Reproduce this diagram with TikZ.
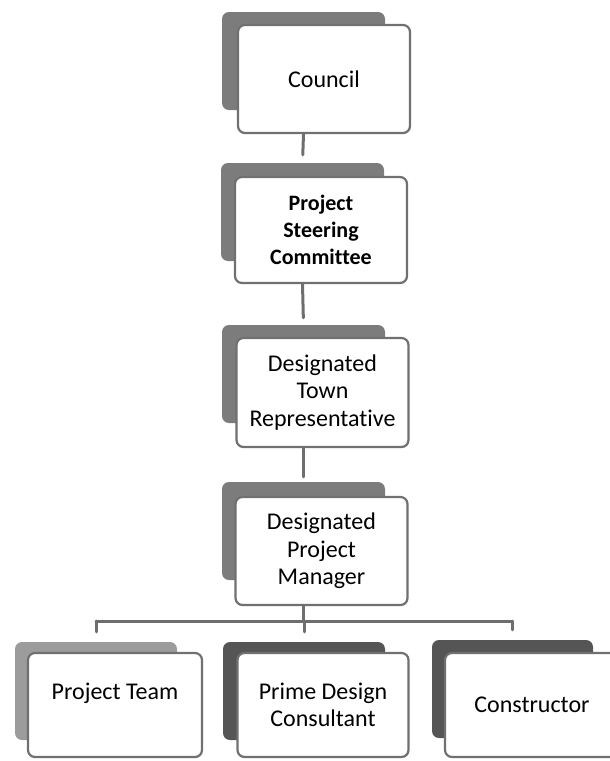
\documentclass[tikz,border=0pt]{standalone}
\usepackage{fontspec}
\setmainfont{Carlito}[Ligatures=NoCommon]
\definecolor{boxline}{HTML}{707070}
\definecolor{linkgray}{HTML}{6E6E6E}
\definecolor{shadeA}{HTML}{7C7C7C}
\definecolor{shadeB}{HTML}{9C9C9C}
\definecolor{shadeC}{HTML}{555555}
\begin{document}
\begin{tikzpicture}[x=1pt, y=-1pt, line join=round, line cap=round,
	font=\fontsize{24}{27.5}\selectfont,
	card/.style={draw=boxline, line width=2.2pt, fill=white, rounded corners=7pt,
		minimum width=172pt, minimum height=106pt, align=center, inner sep=2pt},
	back/.style={fill=#1, rounded corners=7pt, minimum width=163pt,
		minimum height=98pt, inner sep=0pt},
	link/.style={draw=linkgray, line width=3pt}]
	\clip (0,0) rectangle (610,761);
	% back plates first, cards on top
	\node[back=shadeA] (council-b) at (303.5,61) {};
	\node[card, minimum height=108pt] (council) at (324,79) {Council};
	\node[back=shadeA] (steer-b) at (302.5,212) {};
	\node[card, font=\fontsize{22}{26.7}\selectfont\bfseries] (steer) at (321,230) {Project\\Steering\\Committee};
	\node[back=shadeA] (town-b) at (303.5,374) {};
	\node[card, minimum height=109pt] (town) at (322.5,392.5) {Designated\\Town\\Representative};
	\node[back=shadeA] (manager-b) at (303.5,531) {};
	\node[card, minimum height=108pt] (manager) at (321.5,551) {Designated\\Project\\Manager};
	% bottom row
	\node[back=shadeB, minimum width=162pt] (team-b) at (96,691) {};
	\node[card, minimum width=174pt, minimum height=104pt] (team) at (115,705) {Project Team\\ \mbox{}};
	\node[back=shadeC, minimum width=162pt] (prime-b) at (304,691) {};
	\node[card, minimum width=171pt, minimum height=104pt] (prime) at (323,705) {Prime Design\\Consultant};
	\node[back=shadeC, minimum width=161pt] (builder-b) at (512.5,689) {};
	\node[card, minimum width=174pt, minimum height=104pt] (builder) at (532,705) {Constructor};
	% connectors
	\draw[link, shorten >=8pt] (council.south -| council-b.north) -- (steer-b.north);
	\draw[link, shorten >=7pt] (steer.south -| steer-b.north) -- (town-b.north);
	\draw[link, shorten >=5pt] (town.south -| town-b.north) -- (manager-b.north);
	\coordinate (bus) at (303.5,621);
	\draw[link] (manager.south -| manager-b.north) -- (bus);
	\draw[link] (bus -| team-b.north) -- (bus -| builder-b.north);
	\foreach \n in {team,prime,builder}
		\draw[link, shorten >=10pt] (bus -| \n-b.north) -- (\n-b.north);
\end{tikzpicture}
\end{document}
